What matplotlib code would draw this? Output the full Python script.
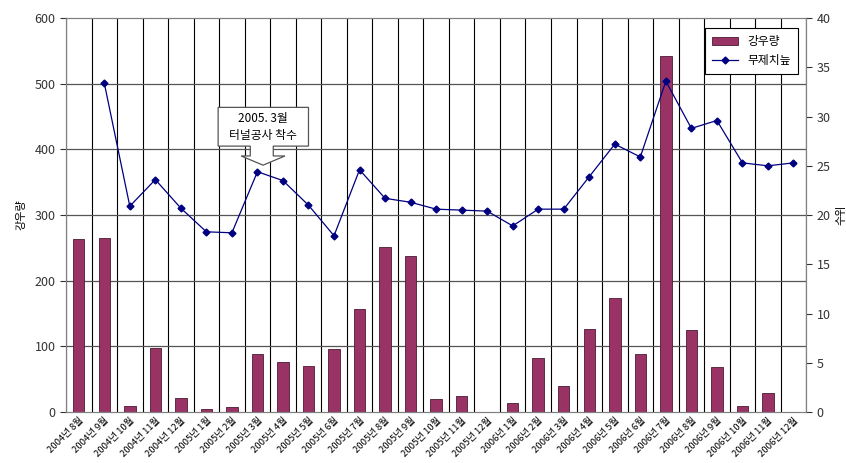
import matplotlib.pyplot as plt
import numpy as np
from matplotlib.patches import Polygon

plt.rcParams['font.family'] = ['Noto Sans CJK KR', 'DejaVu Sans']

# 월별 라벨
months = ['2004년 8월', '2004년 9월', '2004년 10월', '2004년 11월', '2004년 12월',
          '2005년 1월', '2005년 2월', '2005년 3월', '2005년 4월', '2005년 5월',
          '2005년 6월', '2005년 7월', '2005년 8월', '2005년 9월', '2005년 10월',
          '2005년 11월', '2005년 12월', '2006년 1월', '2006년 2월', '2006년 3월',
          '2006년 4월', '2006년 5월', '2006년 6월', '2006년 7월', '2006년 8월',
          '2006년 9월', '2006년 10월', '2006년 11월', '2006년 12월']

# 강우량 (mm)
rainfall = [263, 265, 10, 97, 22, 5, 7, 88, 77, 70, 96, 157, 252, 238, 20,
            25, 0, 14, 82, 40, 126, 174, 88, 542, 125, 69, 10, 29, 0]

# 무제치늪 수위
level = [np.nan, 33.4, 20.9, 23.6, 20.7, 18.3, 18.2, 24.4, 23.5, 21.0, 17.9,
         24.6, 21.7, 21.3, 20.6, 20.5, 20.4, 18.9, 20.6, 20.6, 23.9, 27.2,
         25.9, 33.6, 28.8, 29.6, 25.3, 25.0, 25.3]

x = np.arange(len(months))

fig = plt.figure(figsize=(8.46, 4.63), dpi=100)
ax1 = fig.add_axes([0.078, 0.110, 0.875, 0.851])
ax2 = ax1.twinx()

# 그리드
for b in np.arange(len(months) + 1) - 0.5:
    ax1.axvline(b, color='black', lw=0.8, zorder=0)
for yv in range(100, 600, 100):
    ax1.axhline(yv, color='#555555', lw=0.9, zorder=0)

bars = ax1.bar(x, rainfall, width=0.45, color='#993366', edgecolor='#4d1a33',
               lw=0.6, zorder=2, label='강우량')
line, = ax2.plot(x, level, color='#000080', lw=0.9, marker='D', ms=3.5,
                 label='무제치늪', zorder=3)

ax1.set_xlim(-0.5, len(months) - 0.5)
ax1.set_ylim(0, 600)
ax2.set_ylim(0, 40)
ax1.set_yticks(range(0, 601, 100))
ax2.set_yticks(range(0, 41, 5))

ax1.set_xticks(x)
ax1.set_xticklabels(months, rotation=45, ha='right', rotation_mode='anchor',
                    fontsize=6.8)
ax1.tick_params(axis='x', length=0, pad=3)
ax1.tick_params(axis='y', labelsize=9, colors='#333333', length=4)
ax2.tick_params(axis='y', labelsize=9, colors='#333333', length=4)

for a in (ax1, ax2):
    for s in a.spines.values():
        s.set_color('#808080')
ax1.set_zorder(ax2.get_zorder() - 1)
ax1.patch.set_visible(True)
ax2.patch.set_visible(False)

ax1.set_ylabel('강우량', fontsize=8, labelpad=6)
ax2.set_ylabel('수위', fontsize=8, rotation=90, labelpad=4)

# 범례
leg = ax2.legend([bars, line], ['강우량', '무제치늪'], loc='upper right',
                 bbox_to_anchor=(0.997, 0.99), fontsize=8.5, fancybox=False,
                 edgecolor='black', framealpha=1, borderpad=0.6,
                 handlelength=2.2)
leg.get_frame().set_linewidth(0.8)

# 말풍선 (2005. 3월)
i = months.index('2005년 3월')
cx = i + 0.22
pts = [(cx - 1.76, 464), (cx + 1.78, 464), (cx + 1.78, 405), (cx + 0.4, 405),
       (cx + 0.4, 390), (cx + 0.86, 390), (cx, 376), (cx - 0.86, 390),
       (cx - 0.5, 390), (cx - 0.5, 405), (cx - 1.76, 405)]
ax2.add_patch(Polygon([ax2.transData.inverted().transform(ax1.transData.transform(p))
                       for p in pts], closed=True, facecolor='white',
                      edgecolor='#555555', lw=0.9, zorder=5))
ax1_to_2 = ax2.transData.inverted().transform(ax1.transData.transform((cx, 434.5)))
ax2.text(ax1_to_2[0], ax1_to_2[1], '2005. 3월\n터널공사 착수', ha='center',
         va='center', fontsize=8.5, zorder=6, linespacing=1.4)

fig.savefig('out.png', dpi=100)
